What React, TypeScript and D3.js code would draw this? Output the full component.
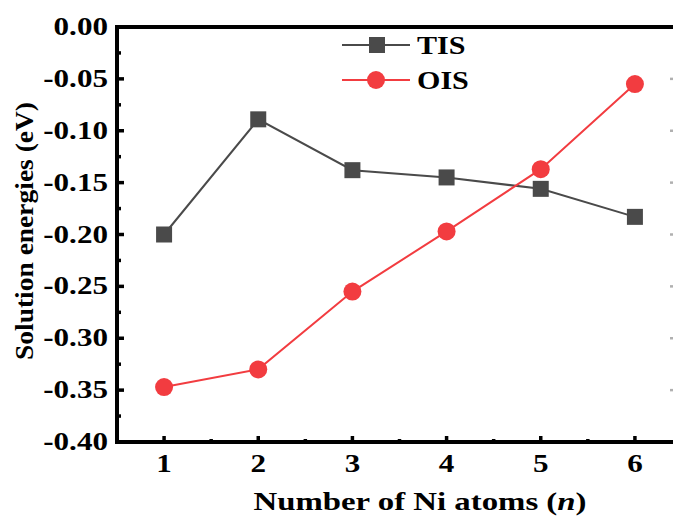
import React from "react";
import * as d3 from "d3";

// data
const atoms = [1, 2, 3, 4, 5, 6];
const tis = [-0.2, -0.089, -0.138, -0.145, -0.156, -0.183];
const ois = [-0.347, -0.33, -0.255, -0.197, -0.137, -0.055];
const yTicks = [0, -0.05, -0.1, -0.15, -0.2, -0.25, -0.3, -0.35, -0.4];
const yMinor = [-0.025, -0.075, -0.125, -0.175, -0.225, -0.275, -0.325, -0.375];
const xMinor = [1.5, 2.5, 3.5, 4.5, 5.5];

const W = 673;
const H = 522;
const FONT = "'Liberation Serif', 'Times New Roman', serif";
const grayC = "#4a4a4a";
const redC = "#f23c40";

export default function App() {
  const x = d3.scaleLinear().domain([0.5, 6.5]).range([117, 682]);
  const y = d3.scaleLinear().domain([-0.4, 0]).range([442, 27]);

  const line = d3
    .line<number>()
    .x((d, i) => x(atoms[i]))
    .y((d) => y(d));

  // text in the picture is stretched sideways a bit
  const label = (tx: number, ty: number, s: string, anchor: string, sx = 1.22) => (
    <text
      key={s + tx + ty}
      transform={`translate(${tx},${ty}) scale(${sx},1)`}
      textAnchor={anchor}
      fontFamily={FONT}
      fontWeight="bold"
      fontSize={25.5}
      fill="#000"
    >
      {s}
    </text>
  );

  const [x0, x1] = x.range();
  const [yb, yt] = y.range();

  return (
    <svg
      width={W}
      height={H}
      style={{ position: "absolute", left: 0, top: 0, background: "#fff" }}
    >
      <rect width={W} height={H} fill="#fff" />

      {/* frame */}
      <g stroke="#000" strokeWidth={4} fill="none">
        <line x1={x0} x2={x1 + 4} y1={yt} y2={yt} />
        <line x1={x0 - 2} x2={x1 + 4} y1={yb} y2={yb} />
        <line x1={x0} x2={x0} y1={yt - 2} y2={yb + 2} />
      </g>

      {/* y ticks */}
      <g stroke="#000" strokeWidth={3.5}>
        {yTicks.map((t) => (
          <line key={t} x1={x0} x2={x0 + 7} y1={y(t)} y2={y(t)} />
        ))}
        {yMinor.map((t) => (
          <line key={t} x1={x0} x2={x0 + 4} y1={y(t)} y2={y(t)} />
        ))}
      </g>
      {/* right-side ticks, mostly cut off */}
      <g stroke="#b0b0b0" strokeWidth={2.5}>
        {yTicks.slice(1, -1).map((t) => (
          <line key={t} x1={670} x2={682} y1={y(t)} y2={y(t)} />
        ))}
      </g>

      {/* x ticks */}
      <g stroke="#000" strokeWidth={3.5}>
        {atoms.map((t) => (
          <line key={t} x1={x(t)} x2={x(t)} y1={yb} y2={yb - 6} />
        ))}
        {xMinor.map((t) => (
          <line key={t} x1={x(t)} x2={x(t)} y1={yb} y2={yb - 3} />
        ))}
      </g>

      {yTicks.map((t) => label(108, y(t) + 8, d3.format(".2f")(t).replace("−", "-"), "end"))}
      {atoms.map((t) => label(x(t), 472, String(t), "middle"))}

      {/* axis titles */}
      <text
        x={420}
        y={510}
        textAnchor="middle"
        fontFamily={FONT}
        fontWeight="bold"
        fontSize={25}
        textLength={333}
        lengthAdjust="spacingAndGlyphs"
      >
        Number of Ni atoms (<tspan fontStyle="italic">n</tspan>)
      </text>
      <text
        transform={`translate(33,231) rotate(-90)`}
        textAnchor="middle"
        fontFamily={FONT}
        fontWeight="bold"
        fontSize={25}
        textLength={258}
        lengthAdjust="spacingAndGlyphs"
      >
        Solution energies (eV)
      </text>

      {/* series */}
      <path d={line(tis) ?? ""} fill="none" stroke={grayC} strokeWidth={2} />
      {tis.map((v, i) => (
        <rect key={i} x={x(atoms[i]) - 8} y={y(v) - 8} width={16} height={16} fill={grayC} />
      ))}
      <path d={line(ois) ?? ""} fill="none" stroke={redC} strokeWidth={2} />
      {ois.map((v, i) => (
        <circle key={i} cx={x(atoms[i])} cy={y(v)} r={9} fill={redC} />
      ))}

      {/* legend */}
      <line x1={342} x2={410} y1={45} y2={45} stroke={grayC} strokeWidth={2} />
      <rect x={369} y={37} width={16} height={16} fill={grayC} />
      {label(417, 54, "TIS", "start", 1.18)}
      <line x1={342} x2={410} y1={80} y2={80} stroke={redC} strokeWidth={2} />
      <circle cx={376} cy={80} r={9} fill={redC} />
      {label(417, 89, "OIS", "start", 1.18)}
    </svg>
  );
}
